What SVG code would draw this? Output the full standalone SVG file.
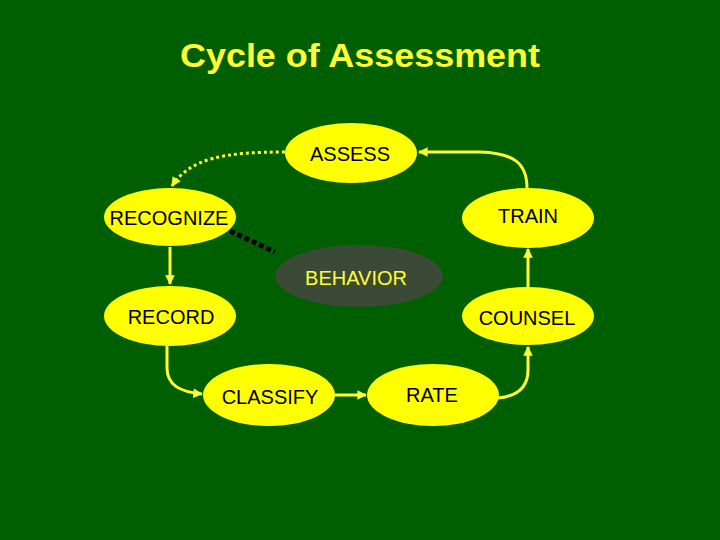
<svg xmlns="http://www.w3.org/2000/svg" width="720" height="540" viewBox="0 0 720 540">
<style>
.bg{fill:#005f00}
.node{fill:#ffff00}
.lbl{font-family:"Liberation Sans",Arial,sans-serif;font-size:20px;fill:#000;text-anchor:middle}
.title{font-family:"Liberation Sans",Arial,sans-serif;font-size:33px;font-weight:bold;fill:#ffff33;text-anchor:middle}
.edge{fill:none;stroke:#ffff33;stroke-width:3;marker-end:url(#arr)}
</style>
<defs>
<marker id="arr" viewBox="0 0 10 10" refX="9" refY="5" markerWidth="3.6" markerHeight="3.2" markerUnits="strokeWidth" orient="auto">
<path d="M0,0 L10,5 L0,10 z" fill="#ffff33"/>
</marker>
</defs>
<rect class="bg" x="0" y="0" width="720" height="540"/>
<text class="title" x="360" y="67" textLength="360" lengthAdjust="spacingAndGlyphs">Cycle of Assessment</text>
<g id="connectors">
<path class="edge" d="M527,188 C527,162 512,153 480,152 L419,152"/>
<path class="edge" d="M285,152 C225,152 190,158 172,186" stroke-dasharray="3,3"/>
<path class="edge" d="M170,247 L170,284"/>
<path class="edge" d="M167,346 L167,368 C167,385 180,392 202,394"/>
<path class="edge" d="M335,395 L366,395"/>
<path class="edge" d="M498,398 C520,396 528,385 528,370 L528,347"/>
<path class="edge" d="M528,287 L528,249"/>
<path d="M230,231 L275,252" fill="none" stroke="#000" stroke-width="5" stroke-dasharray="5,3"/>
</g>
<g id="assess"><ellipse class="node" cx="351" cy="153" rx="66" ry="30"/><text class="lbl" x="350" y="161">ASSESS</text></g>
<g id="recognize"><ellipse class="node" cx="170" cy="217" rx="66" ry="29"/><text class="lbl" x="169" y="225">RECOGNIZE</text></g>
<g id="train"><ellipse class="node" cx="528" cy="218" rx="66" ry="30"/><text class="lbl" x="528" y="223">TRAIN</text></g>
<g id="behavior"><ellipse cx="359" cy="276" rx="84" ry="31" fill="#3b4a36"/><text class="lbl" x="356" y="285" style="fill:#ffff33">BEHAVIOR</text></g>
<g id="record"><ellipse class="node" cx="170" cy="316" rx="66" ry="30"/><text class="lbl" x="171" y="324">RECORD</text></g>
<g id="counsel"><ellipse class="node" cx="528" cy="316" rx="66" ry="29"/><text class="lbl" x="527" y="325">COUNSEL</text></g>
<g id="classify"><ellipse class="node" cx="269" cy="395" rx="66" ry="31"/><text class="lbl" x="270" y="404">CLASSIFY</text></g>
<g id="rate"><ellipse class="node" cx="433" cy="395" rx="66" ry="31"/><text class="lbl" x="432" y="402">RATE</text></g>
</svg>
